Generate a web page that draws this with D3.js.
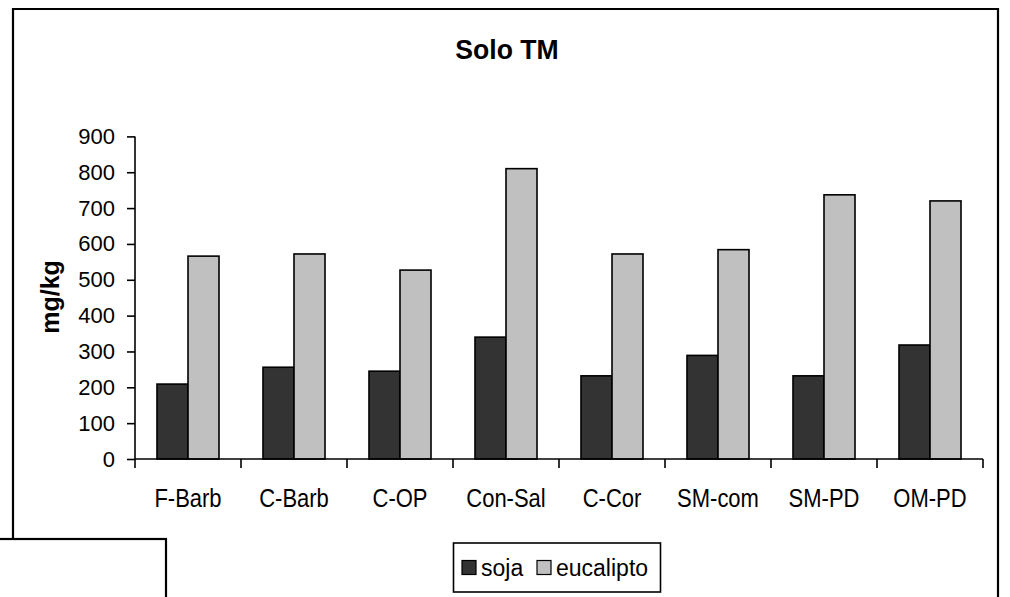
<!DOCTYPE html>
<html>
<head>
<meta charset="utf-8">
<script src="https://cdn.jsdelivr.net/npm/d3@7"></script>
<style>
  html, body { margin: 0; padding: 0; background: #fff; }
  svg { display: block; font-family: Arial, "Liberation Sans", sans-serif; }
</style>
</head>
<body>
<svg id="chart" width="1010" height="597"></svg>
<script>
const title = "Solo TM";
const yLabel = "mg/kg";
const categories = ["F-Barb", "C-Barb", "C-OP", "Con-Sal", "C-Cor", "SM-com", "SM-PD", "OM-PD"];
const seriesNames = ["soja", "eucalipto"];
const soja = [209, 256, 245, 340, 232, 289, 232, 318];
const eucalipto = [566, 572, 527, 810, 572, 584, 737, 720];
const yTicks = [0, 100, 200, 300, 400, 500, 600, 700, 800, 900];
const colors = ["#333333", "#c0c0c0"];

const seriesValues = [soja, eucalipto];
const svg = d3.select("#chart");

// outer chart frame
svg.append("path")
  .attr("d", "M13,597 L13,9 L998,9 L998,597")
  .attr("fill", "none").attr("stroke", "#000").attr("stroke-width", 2.2);

svg.append("text")
  .attr("transform", "translate(507,59) scale(0.95,1)")
  .attr("text-anchor", "middle")
  .attr("font-size", 28).attr("font-weight", "bold")
  .text(title);

const plotLeft = 135, plotRight = 983, plotBottom = 459, plotTop = 136.4;
const x0 = d3.scaleBand().domain(categories).range([plotLeft, plotRight]).padding(0);
const bw = x0.bandwidth();
const groupW = bw * 0.585;
const x1 = d3.scaleBand().domain(seriesNames).range([0, groupW]).padding(0);
const y = d3.scaleLinear().domain([0, 900]).range([plotBottom, plotTop]);

// bars
const g = svg.append("g");
categories.forEach((c, i) => {
  seriesNames.forEach((s, j) => {
    const v = seriesValues[j][i];
    g.append("rect")
      .attr("x", x0(c) + (bw - groupW) / 2 + x1(s))
      .attr("y", y(v))
      .attr("width", x1.bandwidth())
      .attr("height", y(0) - y(v))
      .attr("fill", colors[j])
      .attr("stroke", "#000")
      .attr("stroke-width", 1.6);
  });
});

// y axis
const yAxis = svg.append("g")
  .attr("transform", `translate(${plotLeft},0)`)
  .call(d3.axisLeft(y).tickValues(yTicks).tickSize(8).tickPadding(12).tickFormat(d3.format("d")));
yAxis.select(".domain").attr("stroke", "#000").attr("stroke-width", 1.6).attr("d", `M0,${plotTop}V${plotBottom}`);
yAxis.selectAll(".tick line").attr("stroke", "#000").attr("stroke-width", 1.6);
yAxis.selectAll(".tick text").attr("font-size", 22).attr("fill", "#000")
  .attr("font-family", "Arial, 'Liberation Sans', sans-serif");

// x axis (ticks at category boundaries)
const xAxisG = svg.append("g").attr("transform", `translate(0,${plotBottom})`);
xAxisG.append("line").attr("x1", plotLeft).attr("x2", plotRight).attr("y1", 0).attr("y2", 0)
  .attr("stroke", "#000").attr("stroke-width", 1.6);
const boundaries = categories.map(c => x0(c)).concat([plotRight]);
xAxisG.selectAll("line.tk").data(boundaries).enter().append("line")
  .attr("class", "tk")
  .attr("x1", d => d).attr("x2", d => d).attr("y1", 0).attr("y2", 9)
  .attr("stroke", "#000").attr("stroke-width", 1.6);
xAxisG.selectAll("text").data(categories).enter().append("text")
  .attr("transform", d => `translate(${x0(d) + bw / 2},47.5) scale(0.83,1)`)
  .attr("text-anchor", "middle")
  .attr("font-size", 26.5)
  .text(d => d);

// y axis title
svg.append("text")
  .attr("transform", "translate(59,297) rotate(-90)")
  .attr("text-anchor", "middle")
  .attr("font-size", 25).attr("font-weight", "bold")
  .text(yLabel);

// legend
const lg = svg.append("g");
lg.append("rect").attr("x", 453.5).attr("y", 543).attr("width", 207).attr("height", 49)
  .attr("fill", "#fff").attr("stroke", "#000").attr("stroke-width", 1.6);
const legendItems = [
  { sx: 462, tx: 481 },
  { sx: 537, tx: 556 }
];
seriesNames.forEach((s, j) => {
  lg.append("rect").attr("x", legendItems[j].sx).attr("y", 560.5).attr("width", 14).attr("height", 14)
    .attr("fill", colors[j]).attr("stroke", "#000").attr("stroke-width", 1.2);
  lg.append("text").attr("x", legendItems[j].tx).attr("y", 576)
    .attr("font-size", 23).text(s);
});

// overlapping frame fragment at bottom-left
svg.append("rect").attr("x", -5).attr("y", 539).attr("width", 171).attr("height", 80)
  .attr("fill", "#fff").attr("stroke", "#000").attr("stroke-width", 2.2);
</script>
</body>
</html>
